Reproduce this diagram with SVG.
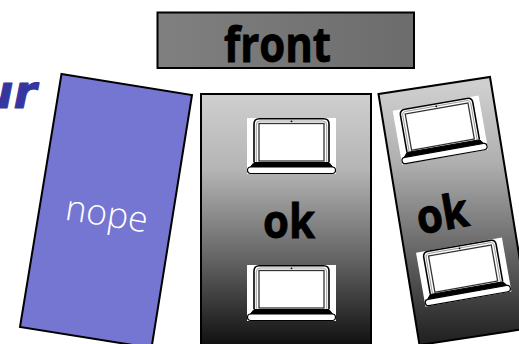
<svg xmlns="http://www.w3.org/2000/svg" width="519" height="344" viewBox="0 0 519 344">
<style>
.box{stroke:#000;stroke-width:2}
.big{font-family:"Open Sans","Liberation Sans",sans-serif;font-weight:700;fill:#000;stroke:#000;stroke-width:0.9}
.lid{fill:#fff;stroke:#000;stroke-width:1.600}
</style>
<defs>
<linearGradient id="gf" x1="0" y1="0" x2="1" y2="0"><stop offset="0" stop-color="#808080"/><stop offset="1" stop-color="#6c6c6c"/></linearGradient>
<linearGradient id="gc" gradientUnits="userSpaceOnUse" x1="0" y1="94" x2="0" y2="344"><stop offset="0" stop-color="#cfcfcf"/><stop offset="0.3" stop-color="#b5b5b5"/><stop offset="0.65" stop-color="#666"/><stop offset="1" stop-color="#111"/></linearGradient>
<linearGradient id="gr" gradientUnits="userSpaceOnUse" x1="0" y1="85" x2="0" y2="340"><stop offset="0" stop-color="#cfcfcf"/><stop offset="0.3" stop-color="#b0b0b0"/><stop offset="0.65" stop-color="#666"/><stop offset="1" stop-color="#222"/></linearGradient>
<g id="laptop">
<rect x="0" y="0" width="89" height="56" fill="#fff"/>
<path d="M7 44V6Q7 0.800 12.500 0.800H76.500Q82 0.800 82 6V44" class="lid"/>
<path d="M9.300 44V7Q9.300 3 13 3H76Q79.700 3 79.700 7V44" fill="none" stroke="#888" stroke-width="0.8"/>
<rect x="12" y="5.500" width="65" height="37.500" fill="#fff" stroke="#333" stroke-width="1.300"/>
<circle cx="44.500" cy="3.300" r="0.900" fill="#000"/>
<path d="M3 49.500L7 44.500H82L86 49.500Z" fill="#000" stroke="#000"/>
<rect x="0.500" y="49" width="88" height="6.500" rx="3.200" fill="#fff" stroke="#000" stroke-width="1.200"/>
</g>
</defs>
<g id="word-fragment"><text x="-20" y="108" font-family="DejaVu Sans" font-weight="700" font-style="italic" font-size="47" fill="#3636a0" stroke="#3636a0" stroke-width="1" stroke-linejoin="round">ur</text></g>
<g id="front"><rect class="box" x="157.500" y="12.500" width="256.500" height="55.500" fill="url(#gf)"/><text class="big" x="277.500" y="62" font-size="48" text-anchor="middle" textLength="107" lengthAdjust="spacingAndGlyphs">front</text></g>
<g id="nope"><polygon class="box" points="61.500,74 192,95 151.500,348 20,327" fill="#7575d2"/><text x="105" y="226" transform="rotate(9 105 226)" font-family="Open Sans" font-weight="300" font-size="36" fill="#fff" text-anchor="middle" textLength="83" lengthAdjust="spacingAndGlyphs">nope</text></g>
<g id="ok-center"><rect class="box" x="201" y="94" width="170" height="256" fill="url(#gc)"/>
<use href="#laptop" x="247" y="118"/><text class="big" x="289" y="238" font-size="47" text-anchor="middle" textLength="52" lengthAdjust="spacingAndGlyphs">ok</text><use href="#laptop" x="247" y="265"/></g>
<g id="ok-right"><polygon class="box" points="378.500,94 490,77 531,328 419.500,345" fill="url(#gr)"/>
<use href="#laptop" transform="translate(392.700 110.700) rotate(-10) scale(.98)"/>
<text class="big" x="445" y="230" transform="rotate(-10 445 230)" font-size="47" text-anchor="middle" textLength="52" lengthAdjust="spacingAndGlyphs">ok</text>
<use href="#laptop" transform="translate(416 252.700) rotate(-10) scale(.98)"/></g>
<g id="connectors"/>
</svg>
